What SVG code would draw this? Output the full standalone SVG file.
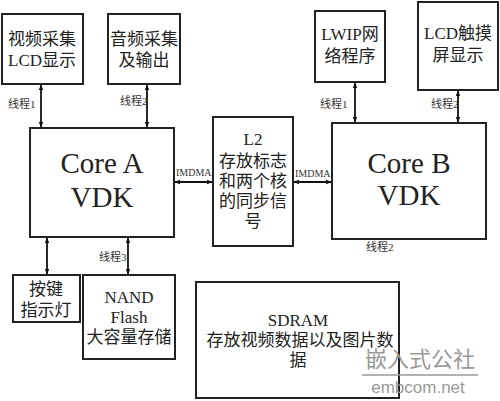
<svg xmlns="http://www.w3.org/2000/svg" width="500" height="401" viewBox="0 0 500 401">
<style>
.box{fill:#fff;stroke:#222;stroke-width:2}
.t{font-family:"Liberation Serif","Noto Sans CJK SC",serif;font-size:17px;fill:#222;text-anchor:middle}
.big{font-size:29px}
.s{font-family:"Liberation Serif","Noto Sans CJK SC",serif;font-size:11px;fill:#333}
.c{stroke:#111;stroke-width:1.8;fill:none;marker-start:url(#a);marker-end:url(#a)}
</style>
<defs>
<marker id="a" viewBox="0 0 10 10" refX="9" refY="5" markerWidth="6" markerHeight="6" orient="auto-start-reverse" markerUnits="userSpaceOnUse">
<path d="M0,1 L10,5 L0,9 z" fill="#111"/>
</marker>
</defs>
<rect width="500" height="401" fill="#fff"/>
<g id="connectors">
<line class="c" x1="41" y1="85" x2="41" y2="127"/>
<line class="c" x1="147" y1="85" x2="147" y2="127"/>
<line class="c" x1="355" y1="83" x2="355" y2="122"/>
<line class="c" x1="458" y1="91" x2="458" y2="122"/>
<line class="c" x1="175" y1="182" x2="212" y2="182"/>
<line class="c" x1="294" y1="182" x2="331" y2="182"/>
<line class="c" x1="47" y1="238" x2="47" y2="274"/>
<line class="c" x1="128" y1="238" x2="128" y2="274"/>
<text class="s" x="8" y="108">线程1</text>
<text class="s" x="120" y="105">线程2</text>
<text class="s" x="320" y="108">线程1</text>
<text class="s" x="431" y="108">线程2</text>
<text class="s" x="176" y="176" style="font-size:10px">IMDMA</text>
<text class="s" x="295" y="177" style="font-size:10px">IMDMA</text>
<text class="s" x="366" y="251">线程2</text>
<text class="s" x="99" y="261">线程3</text>
</g>
<g id="video">
<rect class="box" x="2" y="14" width="81" height="70"/>
<text class="t" x="42" y="45">视频采集</text>
<text class="t" x="42" y="66">LCD显示</text>
</g>
<g id="audio">
<rect class="box" x="108" y="14" width="72" height="70"/>
<text class="t" x="144" y="45">音频采集</text>
<text class="t" x="144" y="66">及输出</text>
</g>
<g id="lwip">
<rect class="box" x="315" y="11" width="70" height="71"/>
<text class="t" x="350" y="40">LWIP网</text>
<text class="t" x="350" y="62">络程序</text>
</g>
<g id="lcdtouch">
<rect class="box" x="418" y="2" width="80" height="88"/>
<text class="t" x="458" y="39">LCD触摸</text>
<text class="t" x="458" y="61">屏显示</text>
</g>
<g id="coreA">
<rect class="box" x="30" y="128" width="144" height="109"/>
<text class="t big" x="102" y="173">Core A</text>
<text class="t big" x="102" y="207">VDK</text>
</g>
<g id="l2">
<rect class="box" x="213" y="117" width="80" height="129"/>
<text class="t" x="253" y="145">L2</text>
<text class="t" x="253" y="167">存放标志</text>
<text class="t" x="253" y="187">和两个核</text>
<text class="t" x="253" y="207">的同步信</text>
<text class="t" x="253" y="227">号</text>
</g>
<g id="coreB">
<rect class="box" x="332" y="123" width="154" height="116"/>
<text class="t big" x="409" y="173">Core B</text>
<text class="t big" x="409" y="205">VDK</text>
</g>
<g id="keys">
<rect class="box" x="13" y="275" width="67" height="47"/>
<text class="t" x="46" y="295">按键</text>
<text class="t" x="46" y="316">指示灯</text>
</g>
<g id="nand">
<rect class="box" x="83" y="275" width="92" height="84"/>
<text class="t" x="129" y="303">NAND</text>
<text class="t" x="129" y="323">Flash</text>
<text class="t" x="129" y="343">大容量存储</text>
</g>
<g id="sdram">
<rect class="box" x="196" y="282" width="203" height="116"/>
<text class="t" x="298" y="326">SDRAM</text>
<text class="t" x="300" y="346">存放视频数据以及图片数</text>
<text class="t" x="298" y="366">据</text>
</g>
<g id="watermark">
<text x="420" y="367" style="font-family:'Noto Sans CJK SC',sans-serif;font-size:22px;fill:#999;text-anchor:middle">嵌入式公社</text>
<line x1="362" y1="375" x2="478" y2="375" stroke="#999" stroke-width="1.5"/>
<text x="418" y="393" style="font-family:'Liberation Sans',sans-serif;font-size:17px;fill:#999;text-anchor:middle">embcom.net</text>
</g>
</svg>
